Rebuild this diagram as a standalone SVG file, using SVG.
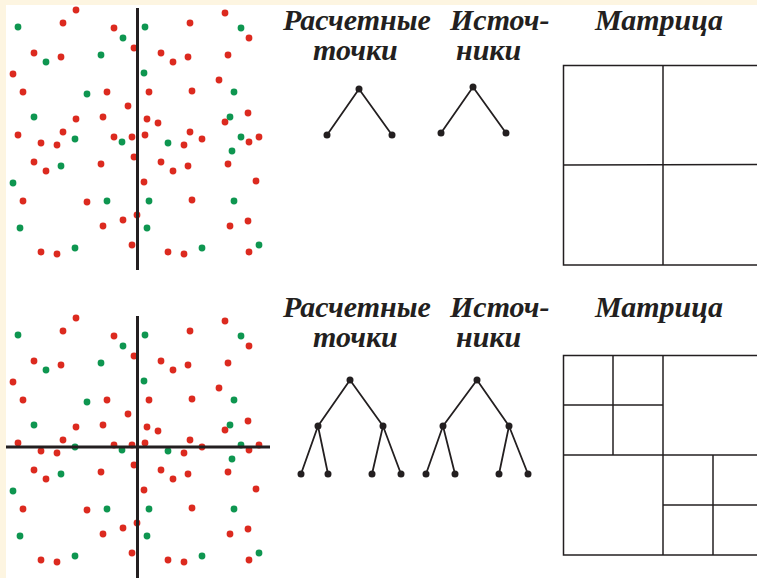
<svg xmlns="http://www.w3.org/2000/svg" xmlns:xlink="http://www.w3.org/1999/xlink" width="757" height="578" viewBox="0 0 757 578">
<style>
.r{fill:#DC2A1F}
.g{fill:#0E9650}
.ax{stroke:#231F20;stroke-width:3;fill:none}
.t{font-family:"Liberation Serif","Times New Roman",serif;font-weight:bold;font-style:italic;font-size:30px;fill:#231F20}
.e{stroke:#231F20;stroke-width:1.8;fill:none}
.n{fill:#231F20}
.m{stroke:#231F20;stroke-width:1.5;fill:none}
</style>
<defs>
<g id="dots">
<circle class="r" cx="76" cy="10" r="3.4"/>
<circle class="g" cx="18" cy="27" r="3.4"/>
<circle class="r" cx="63" cy="23" r="3.4"/>
<circle class="r" cx="114" cy="28" r="3.4"/>
<circle class="g" cx="123" cy="38" r="3.4"/>
<circle class="r" cx="134" cy="48" r="3.4"/>
<circle class="g" cx="145" cy="27" r="3.4"/>
<circle class="r" cx="190" cy="23" r="3.4"/>
<circle class="r" cx="225" cy="13" r="3.4"/>
<circle class="g" cx="241" cy="28" r="3.4"/>
<circle class="r" cx="249" cy="38" r="3.4"/>
<circle class="r" cx="34" cy="53" r="3.4"/>
<circle class="g" cx="46" cy="62" r="3.4"/>
<circle class="r" cx="61" cy="57" r="3.4"/>
<circle class="g" cx="101" cy="55" r="3.4"/>
<circle class="r" cx="161" cy="53" r="3.4"/>
<circle class="r" cx="173" cy="62" r="3.4"/>
<circle class="r" cx="188" cy="57" r="3.4"/>
<circle class="r" cx="228" cy="55" r="3.4"/>
<circle class="r" cx="13" cy="74" r="3.4"/>
<circle class="g" cx="144" cy="73" r="3.4"/>
<circle class="r" cx="219" cy="80" r="3.4"/>
<circle class="r" cx="23" cy="92" r="3.4"/>
<circle class="g" cx="87" cy="94" r="3.4"/>
<circle class="r" cx="107" cy="92" r="3.4"/>
<circle class="r" cx="149" cy="92" r="3.4"/>
<circle class="r" cx="192" cy="91" r="3.4"/>
<circle class="g" cx="234" cy="92" r="3.4"/>
<circle class="r" cx="128" cy="106" r="3.4"/>
<circle class="g" cx="34" cy="117" r="3.4"/>
<circle class="r" cx="76" cy="119" r="3.4"/>
<circle class="r" cx="103" cy="117" r="3.4"/>
<circle class="r" cx="147" cy="119" r="3.4"/>
<circle class="r" cx="158" cy="123" r="3.4"/>
<circle class="r" cx="225" cy="122" r="3.4"/>
<circle class="g" cx="230" cy="117" r="3.4"/>
<circle class="r" cx="248" cy="113" r="3.4"/>
<circle class="r" cx="18" cy="135" r="3.4"/>
<circle class="r" cx="63" cy="132" r="3.4"/>
<circle class="g" cx="75" cy="139" r="3.4"/>
<circle class="r" cx="41" cy="143" r="3.4"/>
<circle class="r" cx="57" cy="145" r="3.4"/>
<circle class="r" cx="114" cy="137" r="3.4"/>
<circle class="g" cx="122" cy="142" r="3.4"/>
<circle class="r" cx="132" cy="137" r="3.4"/>
<circle class="r" cx="145" cy="135" r="3.4"/>
<circle class="g" cx="168" cy="143" r="3.4"/>
<circle class="r" cx="184" cy="145" r="3.4"/>
<circle class="r" cx="190" cy="132" r="3.4"/>
<circle class="r" cx="202" cy="139" r="3.4"/>
<circle class="g" cx="241" cy="137" r="3.4"/>
<circle class="r" cx="259" cy="137" r="3.4"/>
<circle class="r" cx="249" cy="142" r="3.4"/>
<circle class="g" cx="232" cy="151" r="3.4"/>
<circle class="r" cx="134" cy="157" r="3.4"/>
<circle class="r" cx="34" cy="162" r="3.4"/>
<circle class="r" cx="46" cy="171" r="3.4"/>
<circle class="g" cx="61" cy="166" r="3.4"/>
<circle class="r" cx="101" cy="164" r="3.4"/>
<circle class="r" cx="161" cy="162" r="3.4"/>
<circle class="r" cx="173" cy="171" r="3.4"/>
<circle class="r" cx="188" cy="166" r="3.4"/>
<circle class="r" cx="228" cy="164" r="3.4"/>
<circle class="g" cx="13" cy="183" r="3.4"/>
<circle class="r" cx="144" cy="182" r="3.4"/>
<circle class="r" cx="256" cy="181" r="3.4"/>
<circle class="r" cx="23" cy="201" r="3.4"/>
<circle class="r" cx="87" cy="202" r="3.4"/>
<circle class="g" cx="107" cy="201" r="3.4"/>
<circle class="g" cx="149" cy="201" r="3.4"/>
<circle class="r" cx="192" cy="200" r="3.4"/>
<circle class="g" cx="234" cy="201" r="3.4"/>
<circle class="r" cx="137" cy="215" r="3.4"/>
<circle class="r" cx="123" cy="220" r="3.4"/>
<circle class="r" cx="103" cy="226" r="3.4"/>
<circle class="g" cx="20" cy="228" r="3.4"/>
<circle class="g" cx="147" cy="228" r="3.4"/>
<circle class="r" cx="230" cy="226" r="3.4"/>
<circle class="r" cx="248" cy="221" r="3.4"/>
<circle class="r" cx="132" cy="245" r="3.4"/>
<circle class="g" cx="75" cy="248" r="3.4"/>
<circle class="r" cx="41" cy="252" r="3.4"/>
<circle class="r" cx="57" cy="254" r="3.4"/>
<circle class="r" cx="168" cy="252" r="3.4"/>
<circle class="r" cx="184" cy="254" r="3.4"/>
<circle class="g" cx="202" cy="248" r="3.4"/>
<circle class="g" cx="259" cy="245" r="3.4"/>
<circle class="r" cx="249" cy="252" r="3.4"/>
</g>
</defs>
<rect width="757" height="578" fill="#FFFFFF"/>
<rect width="757" height="5" fill="#FDF5E1"/>
<rect width="6" height="578" fill="#FDF5E1"/>

<g id="points-top">
<use xlink:href="#dots" href="#dots"/>
<line class="ax" x1="137.5" y1="8" x2="137.5" y2="270"/>
</g>
<g id="points-bottom">
<use xlink:href="#dots" href="#dots" transform="translate(0,308)"/>
<line class="ax" x1="137.5" y1="316" x2="137.5" y2="578"/>
<line class="ax" x1="6" y1="447" x2="270" y2="447"/>
</g>

<g id="labels-top">
<text class="t"><tspan x="283" y="30">Расчетные</tspan><tspan x="313" y="60">точки</tspan></text>
<text class="t"><tspan x="450" y="30">Источ-</tspan><tspan x="456" y="60">ники</tspan></text>
<text class="t" x="595" y="30">Матрица</text>
</g>
<g id="labels-bottom">
<text class="t"><tspan x="283" y="317">Расчетные</tspan><tspan x="313" y="347">точки</tspan></text>
<text class="t"><tspan x="450" y="317">Источ-</tspan><tspan x="456" y="347">ники</tspan></text>
<text class="t" x="595" y="317">Матрица</text>
</g>

<g id="connectors">
<path class="e" d="M327,135 L359,89 L392,135"/>
<path class="e" d="M441,133 L473,87 L506,133"/>
<path class="e" d="M318,426 L350,380 L383,426 M301,474 L318,426 L328,474 M372,474 L383,426 L401,474"/>
<path class="e" d="M443,426 L477,380 L509,426 M426,474 L443,426 L455,474 M499,474 L509,426 L528,474"/>
</g>

<g id="tree-top-1">
<circle class="n" cx="359" cy="89" r="3.5"/><circle class="n" cx="327" cy="135" r="3.5"/><circle class="n" cx="392" cy="135" r="3.5"/>
</g>
<g id="tree-top-2">
<circle class="n" cx="473" cy="87" r="3.5"/><circle class="n" cx="441" cy="133" r="3.5"/><circle class="n" cx="506" cy="133" r="3.5"/>
</g>
<g id="tree-bottom-1">
<circle class="n" cx="350" cy="380" r="3.5"/><circle class="n" cx="318" cy="426" r="3.5"/><circle class="n" cx="383" cy="426" r="3.5"/>
<circle class="n" cx="301" cy="474" r="3.5"/><circle class="n" cx="328" cy="474" r="3.5"/><circle class="n" cx="372" cy="474" r="3.5"/><circle class="n" cx="401" cy="474" r="3.5"/>
</g>
<g id="tree-bottom-2">
<circle class="n" cx="477" cy="380" r="3.5"/><circle class="n" cx="443" cy="426" r="3.5"/><circle class="n" cx="509" cy="426" r="3.5"/>
<circle class="n" cx="426" cy="474" r="3.5"/><circle class="n" cx="455" cy="474" r="3.5"/><circle class="n" cx="499" cy="474" r="3.5"/><circle class="n" cx="528" cy="474" r="3.5"/>
</g>

<g id="matrix-top">
<rect class="m" x="563.5" y="65.5" width="200" height="199.5"/>
<line class="m" x1="663" y1="65.5" x2="663" y2="265"/>
<line class="m" x1="563.5" y1="165" x2="757" y2="164.5"/>
</g>
<g id="matrix-bottom">
<rect class="m" x="563.5" y="355.5" width="200" height="199.5"/>
<line class="m" x1="663" y1="355.5" x2="663" y2="555"/>
<line class="m" x1="563.5" y1="455" x2="757" y2="455"/>
<line class="m" x1="613" y1="355.5" x2="613" y2="455"/>
<line class="m" x1="563.5" y1="405" x2="663" y2="405"/>
<line class="m" x1="713" y1="455" x2="713" y2="555"/>
<line class="m" x1="663" y1="505" x2="757" y2="505"/>
</g>
</svg>
